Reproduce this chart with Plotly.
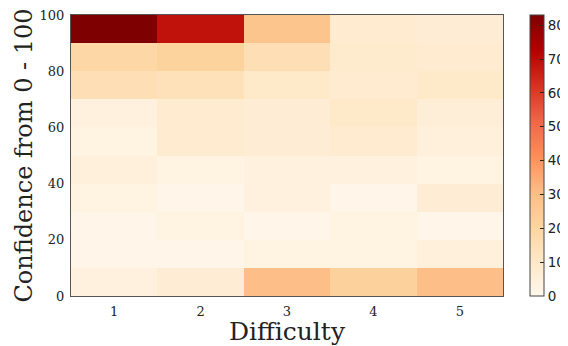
import plotly.graph_objects as go

difficulty = [1, 2, 3, 4, 5]
confidence_bins = [5, 15, 25, 35, 45, 55, 65, 75, 85, 95]
# rows: confidence bin (0-10 ... 90-100), cols: difficulty 1..5
counts = [
    [4, 7, 30, 22, 30],
    [1, 1, 3, 3, 5],
    [1, 3, 1, 3, 1],
    [3, 1, 4, 1, 7],
    [5, 3, 4, 4, 3],
    [3, 8, 7, 8, 5],
    [4, 8, 7, 10, 6],
    [15, 14, 10, 8, 10],
    [19, 21, 15, 9, 8],
    [83, 69, 27, 8, 7],
]
x_ticks = [1, 2, 3, 4, 5]
y_ticks = [0, 20, 40, 60, 80, 100]
cb_ticks = [0, 10, 20, 30, 40, 50, 60, 70, 80]

fig = go.Figure(go.Heatmap(
    x=difficulty, y=confidence_bins, z=counts,
    colorscale="OrRd", zmin=0, zmax=83,
    xgap=0, ygap=0,
    colorbar=dict(
        thickness=14, len=1.0, lenmode="fraction", y=0.5, yanchor="middle",
        x=1.0625, xanchor="left", xpad=0, ypad=0,
        outlinewidth=1, outlinecolor="#444",
        tickvals=cb_ticks, ticks="inside", ticklen=4, tickcolor="#222",
        ticklabeloverflow="allow",
        tickfont=dict(family="DejaVu Sans", size=13.5, color="#222"),
    ),
))

axis_common = dict(showgrid=False, zeroline=False, showline=True, mirror=True,
                   linecolor="#555", linewidth=1, ticks="outside", ticklen=3,
                   tickcolor="rgba(0,0,0,0)", automargin=False, ticklabeloverflow="allow",
                   tickfont=dict(family="DejaVu Serif", size=13, color="#222"))

fig.update_xaxes(range=[0.5, 5.5], tickvals=x_ticks, title_text="Difficulty",
                 title_standoff=1,
                 title_font=dict(family="DejaVu Serif", size=25, color="#222"),
                 **axis_common)
fig.update_yaxes(range=[0, 100], tickvals=y_ticks, title_text="Confidence from 0 - 100",
                 title_standoff=0,
                 title_font=dict(family="DejaVu Serif", size=24, color="#222"),
                 **axis_common)

fig.update_layout(
    width=560, height=338,
    margin=dict(l=63, r=65, t=7, b=50, autoexpand=False),
    paper_bgcolor="white", plot_bgcolor="white",
)

fig.write_html("out.html")
